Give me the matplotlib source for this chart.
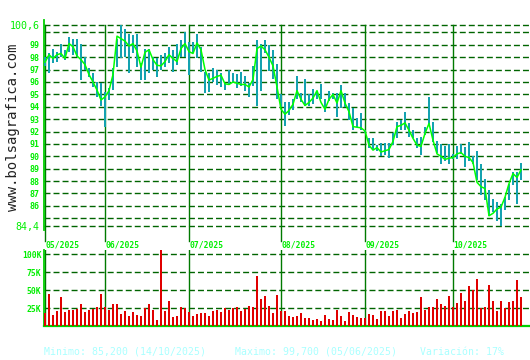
import matplotlib
matplotlib.use("Agg")
import matplotlib.pyplot as plt
import numpy as np

# ---------------- data ----------------
close = [97.6, 98.2, 97.9, 98.2, 98.3, 97.9, 99.1, 98.85, 98.1, 97.8,
         97.4, 96.6, 96.0, 95.35, 94.55, 94.8, 95.3, 96.6, 99.7, 99.5,
         99.3, 98.9, 99.1, 98.5, 97.2, 98.4, 98.6, 97.8, 97.35, 97.3,
         97.65, 98.2, 97.9, 97.65, 98.7, 99.1, 98.45, 98.3, 99.15, 98.6,
         97.0, 96.15, 96.3, 96.45, 96.55, 95.85, 95.8, 96.0, 95.9, 95.8,
         95.8, 95.6, 96.2, 98.7, 98.9, 98.6, 98.0, 97.3, 95.6, 93.8,
         93.4, 93.7, 94.2, 95.3, 94.6, 94.1, 94.35, 94.7, 95.3, 94.35,
         93.8, 94.6, 95.0, 94.3, 95.3, 94.3, 93.6, 92.4, 92.35, 92.3,
         92.05, 90.9, 90.5, 90.7, 90.35, 90.45, 90.55, 91.2, 92.4, 92.5,
         92.7, 92.1, 91.45, 90.9, 90.8, 91.85, 92.65, 91.3, 90.2, 90.0,
         89.75, 89.85, 89.9, 90.2, 90.3, 90.0, 89.9, 89.5, 87.9, 87.55,
         87.4, 85.2, 85.4, 85.75, 85.9, 86.7, 87.8, 88.6, 88.3, 88.9]

high = [98.0, 98.3, 98.7, 98.45, 99.1, 98.6, 99.65, 99.45, 99.5, 99.1,
        98.05, 97.1, 96.7, 96.0, 95.9, 95.2, 95.5, 97.1, 99.5, 100.6,
        100.3, 99.9, 99.8, 99.9, 97.5, 98.7, 98.7, 98.05, 97.9, 98.2,
        98.3, 98.85, 98.6, 99.1, 99.4, 100.05, 99.25, 99.25, 99.9, 98.85,
        96.8, 96.7, 97.1, 96.95, 96.7, 95.9, 96.95, 96.7, 96.65, 96.8,
        96.5, 95.95, 97.3, 99.35, 99.1, 99.35, 98.95, 98.55, 97.45, 95.0,
        94.35, 94.35, 94.6, 96.5, 95.15, 96.25, 95.0, 95.45, 95.3, 95.85,
        94.6, 95.3, 95.15, 95.1, 95.75, 95.1, 94.3, 93.9, 93.1, 93.5,
        92.15, 91.45, 91.45, 90.9, 91.05, 91.05, 91.05, 91.85, 92.8, 92.95,
        93.6, 92.65, 92.15, 91.45, 91.6, 92.4, 94.8, 92.75, 91.25, 91.0,
        90.85, 91.0, 90.2, 90.85, 91.0, 90.75, 91.15, 90.05, 90.45, 89.4,
        88.2, 87.25, 86.55, 86.3, 86.15, 86.7, 87.8, 88.7, 88.7, 89.5]

low = [97.3, 96.7, 97.5, 97.6, 98.05, 97.8, 98.45, 98.2, 98.05, 96.2,
       97.0, 96.4, 95.6, 94.8, 94.1, 92.4, 94.55, 95.35, 97.25, 97.9,
       98.05, 96.7, 98.3, 97.25, 96.2, 96.2, 96.7, 97.0, 96.4, 97.0,
       97.25, 97.5, 96.8, 97.4, 98.05, 98.05, 96.55, 98.3, 97.9, 96.8,
       95.1, 95.2, 96.0, 95.75, 95.6, 95.35, 95.75, 95.9, 95.55, 95.7,
       95.3, 94.75, 95.7, 94.1, 95.3, 98.3, 96.9, 96.25, 94.6, 93.95,
       92.45, 93.3, 93.7, 94.6, 94.35, 94.1, 94.1, 94.2, 94.6, 94.6,
       93.55, 94.5, 94.6, 93.2, 93.9, 94.0, 92.95, 92.15, 92.4, 92.15,
       91.85, 90.65, 90.5, 90.4, 90.0, 90.1, 89.85, 90.9, 91.45, 92.15,
       92.15, 91.6, 91.45, 90.65, 90.1, 91.75, 92.5, 91.15, 90.3, 89.4,
       89.65, 89.4, 89.8, 89.8, 90.2, 89.1, 89.65, 89.4, 88.05, 86.85,
       86.45, 85.2, 85.5, 84.8, 84.4, 85.65, 86.45, 87.65, 86.15, 88.05]

volume_k = [18, 45, 16, 21, 41, 19, 22, 23, 24, 30,
            20, 23, 24, 27, 45, 27, 23, 30, 31, 17,
            21, 14, 20, 16, 14, 25, 31, 23, 9, 106,
            21, 35, 13, 14, 26, 25, 20, 14, 17, 18.5,
            18.5, 14, 21, 23, 20, 25, 23, 25, 26, 21,
            24, 28, 27, 70, 37, 42, 28, 18.5, 43.5, 21,
            21, 14, 13, 14, 18.5, 11.5, 11.5, 9, 10, 7.4,
            16, 10, 9, 23, 14, 7.4, 20, 16, 13, 11.5,
            11.5, 17, 16, 10, 21, 21, 14, 21, 23, 11.5,
            17, 21, 18.5, 20, 41, 23, 27, 27, 38, 30,
            28, 42, 27, 32.5, 46, 35, 56, 50.5, 66, 25.5,
            27, 57, 35, 21, 35, 25.5, 34, 35, 64, 41]

month_start_idx = [0, 15, 36, 59, 80, 102]
month_labels = ["05/2025", "06/2025", "07/2025", "08/2025", "09/2025", "10/2025"]

price_ticks = [84.4, 85, 86, 87, 88, 89, 90, 91, 92, 93, 94, 95, 96, 97, 98, 99, 100, 100.6]
price_tick_labels = ["84,4", "", "86", "87", "88", "89", "90", "91", "92", "93",
                     "94", "95", "96", "97", "98", "99", "", "100,6"]
vol_ticks = [25, 50, 75, 100]
vol_tick_labels = ["25K", "50K", "75K", "100K"]

footer_min = "Minimo: 85,200 (14/10/2025)"
footer_max = "Maximo: 99,700 (05/06/2025)"
footer_var = "Variación: 17%"
side_text = "www.bolsagrafica.com"

# ---------------- style ----------------
MONO = "DejaVu Sans Mono"
GREEN_TXT = "#00ee00"
GRID = "#006400"
MONTH = "#007a00"
SPINE = "#00d000"
LINE = "#00ff00"
TEAL = "#14a2b0"
RED = "#e00000"
FOOT = "#aaffff"

W, H = 530, 360
fig = plt.figure(figsize=(W / 100, H / 100), dpi=100)
fig.patch.set_facecolor("white")

def fx(px):
    return px / W

def fy(py):
    return 1 - py / H

x = np.arange(len(close))
xl = (-0.375, 121.25)

# main price axes
top_px, bot_px, left_px = 25, 225.7, 43.5
ax = fig.add_axes([fx(left_px), fy(bot_px), fx(W - left_px), (bot_px - top_px) / H])
ax.set_xlim(*xl)
ax.set_ylim(84.4, 100.6)
for s in ["top", "right", "bottom"]:
    ax.spines[s].set_visible(False)
ax.spines["left"].set_color(SPINE)
ax.spines["left"].set_linewidth(1.3)
ax.spines["left"].set_bounds(84.4 - 0.35, 100.6 + 0.4)
ax.spines["left"].set_clip_on(False)
ax.set_xticks([])
ax.set_yticks(price_ticks)
ax.set_yticklabels(price_tick_labels)
ax.tick_params(axis="y", length=0, pad=3, colors=GREEN_TXT)
for lab in ax.get_yticklabels():
    t = lab.get_text()
    lab.set_fontfamily(MONO)
    lab.set_fontsize(7.2 if "," in t else 6.0)
    lab.set_fontweight("normal" if "," in t else "bold")
for v in price_ticks:
    ax.axhline(v, color=GRID, lw=1.0, linestyle=(0, (4.3, 2.2)), zorder=1, clip_on=False)

ext = (241 - bot_px) / (bot_px - top_px)
for mi, ml in zip(month_start_idx, month_labels):
    ax.axvline(mi, ymin=-ext, ymax=1, color=MONTH, lw=1.0, zorder=2, clip_on=False)
    fig.text(fx(45 + 4 * mi + 0.5), fy(244.5), ml, family=MONO, fontsize=5.8,
             fontweight="bold", color=GREEN_TXT, ha="left", va="center")

hl = np.array(high) - np.array(low)
ax.bar(x, hl, bottom=low, width=0.3, color=TEAL, linewidth=0, zorder=3)
ax.plot(x, close, color=LINE, lw=1.1, zorder=4)

# volume axes
vtop, vbot = 250, 326
axv = fig.add_axes([fx(left_px), fy(vbot), fx(W - left_px), (vbot - vtop) / H])
axv.set_xlim(*xl)
axv.set_ylim(0, 106)
for s in ["top", "right"]:
    axv.spines[s].set_visible(False)
axv.spines["left"].set_color(SPINE)
axv.spines["left"].set_linewidth(1.3)
axv.spines["bottom"].set_color(SPINE)
axv.spines["bottom"].set_linewidth(1.6)
axv.set_xticks([])
axv.set_yticks(vol_ticks)
axv.set_yticklabels(vol_tick_labels)
axv.tick_params(axis="y", length=0, pad=1.5, colors=GREEN_TXT)
for lab in axv.get_yticklabels():
    lab.set_fontfamily(MONO)
    lab.set_fontsize(5.8)
    lab.set_fontweight("bold")
for v in vol_ticks:
    axv.axhline(v, color=GRID, lw=1.0, linestyle=(0, (4.3, 2.2)), zorder=1)
for mi in month_start_idx:
    axv.axvline(mi, color=MONTH, lw=1.0, zorder=2)
axv.bar(x, volume_k, width=0.27, color=RED, linewidth=0, zorder=3)

# footer texts
fig.text(fx(44.5), fy(352), footer_min, family=MONO, fontsize=7.1, color=FOOT, ha="left", va="center")
fig.text(fx(235), fy(352), footer_max, family=MONO, fontsize=7.1, color=FOOT, ha="left", va="center")
fig.text(fx(420), fy(352), footer_var, family=MONO, fontsize=7.1, color=FOOT, ha="left", va="center")

# side watermark text
fig.text(fx(13), fy(127), side_text, family=MONO, fontsize=10.0, color="#222222",
         rotation=90, ha="center", va="center")

fig.savefig("out.png", dpi=100, facecolor="white")
